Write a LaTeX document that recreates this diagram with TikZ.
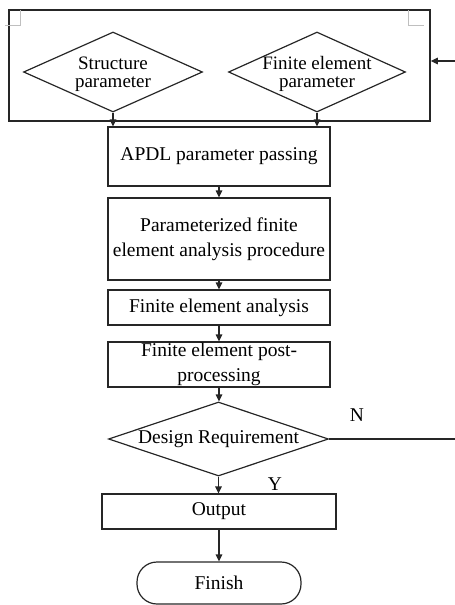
\documentclass[tikz,border=0pt]{standalone}
\usepackage{fontspec}
\setmainfont{Liberation Serif}
\usetikzlibrary{shapes.geometric,arrows.meta,calc}
\begin{document}
\begin{tikzpicture}[x=1pt,y=-1pt,
  line width=1.2pt,
  every node/.style={font=\fontsize{19.5}{24.5}\selectfont},
  box/.style={draw=black!85, rectangle, inner sep=0pt, align=center, minimum width=222pt},
  choice/.style={draw=black!85, diamond, inner sep=0pt},
  tag/.style={align=center, font=\fontsize{19}{17.5}\selectfont},
  flow/.style={draw=black!85, -{Triangle[length=7pt,width=6.5pt]}},
  cornermark/.style={draw=black!25, line width=0.9pt},
]
\useasboundingbox (0,0) rectangle (455,605);

% parameter block
\node[draw=black!85, line width=1.5pt, minimum width=421pt, minimum height=111pt, inner sep=0pt] (frame) at (219.5,65.5) {};
\draw[cornermark] (5,25) -- (20,25) -- (20,10);
\draw[cornermark] (408,10) -- (408,25) -- (424,25);
\node[choice, minimum width=179pt, minimum height=80pt,
      label={[tag,yshift=-2pt]center:{Structure\\parameter}}] (d1) at (113,72) {};
\node[choice, minimum width=177pt, minimum height=80pt,
      label={[tag,yshift=-2pt]center:{Finite element\\parameter}}] (d2) at (317,72) {};

% main flow
\node[box, minimum height=59pt] (b1) at (219,156.5) {APDL parameter passing};
\node[box, minimum height=82pt] (b2) at (219,239) {Parameterized finite\\element analysis procedure};
\node[box, minimum height=35pt] (b3) at (219,307.5) {Finite element analysis};
\node[box, minimum height=45pt] (b4) at (219,364.5) {Finite element post-\\processing};
\node[choice, minimum width=220pt, minimum height=74pt,
      label={center:Design Requirement}] (dd) at (218.5,439) {};
\node[box, minimum width=234pt, minimum height=35pt] (out) at (219,511.5) {Output};
\node[draw=black!85, rounded corners=20pt, minimum width=164pt, minimum height=42pt, inner sep=0pt] (fin) at (219,583) {Finish};

\node (nlab) at (357,415) {N};
\node (ylab) at (275,484) {Y};

% connectors
\draw[flow] (d1.south) -- (d1.south|-b1.north);
\draw[flow] (d2.south) -- (d2.south|-b1.north);
\draw[flow] (b1.south) -- (b2.north);
\draw[flow] (b2.south) -- (b3.north);
\draw[flow] (b3.south) -- (b4.north);
\draw[flow] (b4.south) -- (b4.south|-dd.north);
\draw[flow] (dd.south) -- (dd.south|-out.north);
\draw[flow] (out.south) -- (fin.north);

% feedback loop
\coordinate (fbOut) at (455,439);
\coordinate (fbIn) at (455,61);
\draw[draw=black!85] (dd.east) -- (fbOut);
\draw[flow] (fbIn) -- (fbIn-|frame.east);
\end{tikzpicture}
\end{document}
